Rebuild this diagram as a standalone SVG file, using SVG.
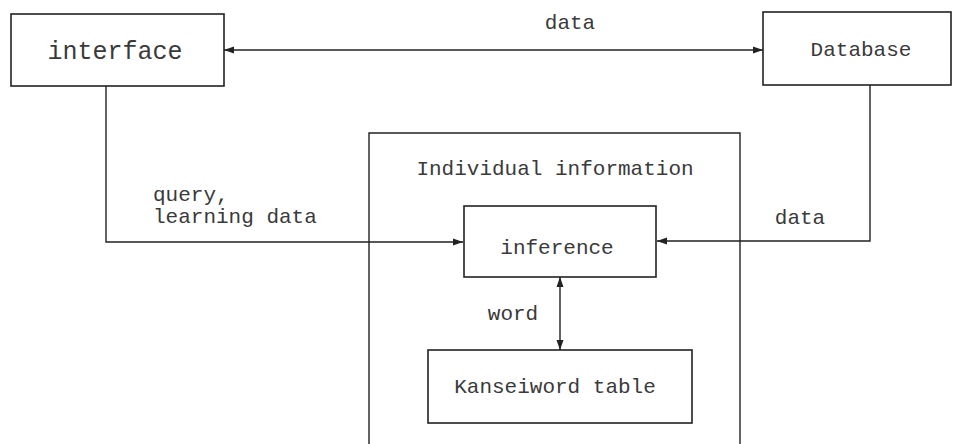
<svg xmlns="http://www.w3.org/2000/svg" width="955" height="444" viewBox="0 0 955 444">
<style>
.box{fill:#fff;stroke:#222;stroke-width:1.6}
.frame{fill:none;stroke:#222;stroke-width:1.4}
.t{font-family:"Liberation Mono","Courier New",monospace;font-size:21px;fill:#3a3a3a;text-anchor:middle}
.l{font-family:"Liberation Mono","Courier New",monospace;font-size:21px;fill:#3a3a3a}
.c{fill:none;stroke:#222;stroke-width:1.4}
</style>
<defs>
<marker id="ah" viewBox="0 0 10 10" refX="10" refY="5" markerWidth="10" markerHeight="10" markerUnits="userSpaceOnUse" orient="auto-start-reverse">
<path d="M0,1.5 L10,5 L0,8.5 Z" fill="#222"/>
</marker>
</defs>
<rect width="955" height="444" fill="#fff"/>
<g id="individual">
<path class="frame" d="M369,444 V133 H740 V444"/>
<text class="t" x="555" y="175">Individual information</text>
</g>
<g id="interface">
<rect class="box" x="11" y="14" width="213" height="72"/>
<text class="t" x="115" y="59" style="font-size:25px">interface</text>
</g>
<g id="database">
<rect class="box" x="763" y="12" width="188" height="73"/>
<text class="t" x="861" y="56">Database</text>
</g>
<g id="inference">
<rect class="box" x="464" y="206" width="192" height="71"/>
<text class="t" x="557" y="254">inference</text>
</g>
<g id="kanseiword">
<rect class="box" x="428" y="350" width="264" height="73"/>
<text class="t" x="555" y="393">Kanseiword table</text>
</g>
<g id="connectors">
<line class="c" x1="224" y1="50" x2="763" y2="50" marker-start="url(#ah)" marker-end="url(#ah)"/>
<text class="t" x="570" y="29">data</text>
<polyline class="c" points="106,86 106,242 463,242" marker-end="url(#ah)"/>
<text class="l" x="153" y="201">query,</text>
<text class="l" x="153" y="223">learning data</text>
<polyline class="c" points="870,85 870,241 657,241" marker-end="url(#ah)"/>
<text class="t" x="800" y="224">data</text>
<line class="c" x1="560" y1="277" x2="560" y2="350" marker-start="url(#ah)" marker-end="url(#ah)"/>
<text class="t" x="513" y="320">word</text>
</g>
</svg>
